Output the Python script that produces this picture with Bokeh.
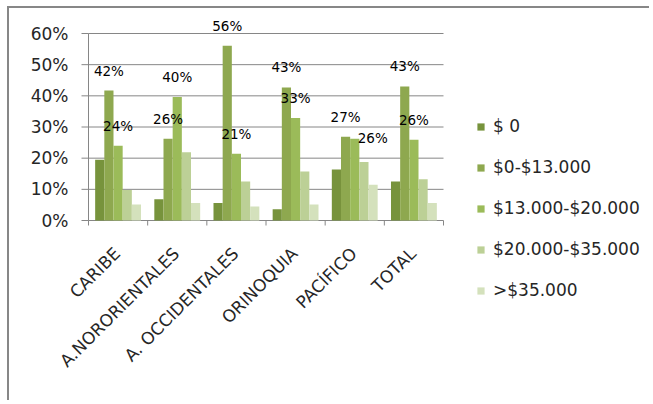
from bokeh.plotting import figure
from bokeh.models import ColumnDataSource, Range1d, Legend, LegendItem, LabelSet
from bokeh.core.properties import value
from bokeh.embed import file_html
from bokeh.resources import INLINE
import math

categories = ["CARIBE", "A.NORORIENTALES", "A. OCCIDENTALES", "ORINOQUIA", "PACÍFICO", "TOTAL"]
series_names = ["$ 0", "$0-$13.000", "$13.000-$20.000", "$20.000-$35.000", ">$35.000"]
s_0 = [0.195, 0.068, 0.056, 0.036, 0.164, 0.125]
s_0_13 = [0.417, 0.262, 0.561, 0.427, 0.269, 0.430]
s_13_20 = [0.240, 0.396, 0.214, 0.329, 0.262, 0.259]
s_20_35 = [0.098, 0.219, 0.125, 0.157, 0.188, 0.132]
s_35 = [0.051, 0.056, 0.045, 0.051, 0.115, 0.056]
y_ticks = [0, 0.1, 0.2, 0.3, 0.4, 0.5, 0.6]

series = [s_0, s_0_13, s_13_20, s_20_35, s_35]
colors = ["#77933C", "#8EA84F", "#9BBB59", "#BCD096", "#D4E1BC"]
labeled = [1, 2]
label_dx = {2: [0, 0, 0, 0, 18, 0]}
label_dy = {2: [20, 20, 20, 20, 1, 20]}

FONT = "DejaVu Sans"
GRAY = "#868686"
TXT = "#262626"

n = len(categories)
# geometry (pixels inside the canvas): plot area origin and scales
W, H = 642, 394
ORIG_X, ORIG_Y = 79, 212          # position of (0, 0%) inside the canvas
band_px = 355 / n                  # width of one category band
unit_px = 187 / y_ticks[-1]        # pixels per unit share

p = figure(width=W, height=H,
           x_range=Range1d(-ORIG_X / band_px, (W - ORIG_X) / band_px),
           y_range=Range1d(-(H - ORIG_Y) / unit_px, ORIG_Y / unit_px),
           output_backend="svg", toolbar_location=None, min_border=0)
p.styles = {"margin-left": "7px", "margin-top": "6px",
            "border-left": "2px solid #878787", "border-top": "2px solid #878787"}
p.outline_line_color = None
p.background_fill_color = "white"
p.border_fill_color = "white"
p.axis.visible = False
p.grid.visible = False

# horizontal gridlines (0% line doubles as the category axis line)
p.segment(x0=[0] * len(y_ticks), x1=[n] * len(y_ticks), y0=y_ticks, y1=y_ticks,
          line_color=GRAY, line_width=1)
# category boundary tick marks
p.ray(x=list(range(n + 1)), y=[0] * (n + 1), length=5, length_units="screen",
      angle=-math.pi / 2, line_color=GRAY, line_width=1)
# value axis: line, ticks, labels
p.segment(x0=[0], x1=[0], y0=[y_ticks[0]], y1=[y_ticks[-1]], line_color=GRAY, line_width=1)
p.ray(x=[0] * len(y_ticks), y=y_ticks, length=7, length_units="screen",
      angle=math.pi, line_color=GRAY, line_width=1)
ytick_src = ColumnDataSource(dict(x=[0] * len(y_ticks), y=y_ticks,
                                  t=[f"{round(t * 100)}%" for t in y_ticks]))
p.add_layout(LabelSet(x="x", y="y", text="t", source=ytick_src, x_offset=-20,
                      text_align="right", text_baseline="middle",
                      text_font=value(FONT), text_font_size=value("17px"), text_color=TXT))

bw = 0.155
centers = [i + 0.5 for i in range(n)]
items = []
for k, (vals, col, name) in enumerate(zip(series, colors, series_names)):
    off = (k - 2) * bw
    xs = [c + off for c in centers]
    src = ColumnDataSource(dict(x=xs, top=vals,
                                txt=[f"{round(v * 100)}%" for v in vals],
                                dx=label_dx.get(k, [0] * len(vals)),
                                dy=label_dy.get(k, [20] * len(vals))))
    r = p.vbar(x="x", top="top", width=bw, bottom=0, source=src, fill_color=col, line_color=None)
    items.append(LegendItem(label=name, renderers=[r]))
    if k in labeled:
        ls = LabelSet(x="x", y="top", text="txt", source=src, x_offset="dx", y_offset="dy",
                      text_align="center", text_baseline="middle",
                      text_font=value(FONT), text_font_size=value("13.5px"), text_color="#000000")
        p.add_layout(ls)

# category labels, rotated
cat_src = ColumnDataSource(dict(x=centers, y=[0] * n, name=categories))
p.add_layout(LabelSet(x="x", y="y", text="name", source=cat_src, angle=math.pi / 4,
                      x_offset=-1, y_offset=-30, text_align="right", text_baseline="middle",
                      text_font=value(FONT), text_font_size=value("17px"), text_color=TXT))

legend = Legend(items=items, location=(467, 102), orientation="vertical",
                glyph_width=9, glyph_height=9, label_standoff=8,
                label_text_font=FONT, label_text_font_size="17px", label_text_color=TXT,
                label_height=20, spacing=21, padding=0, margin=0,
                border_line_color=None, background_fill_alpha=0)
p.add_layout(legend)

open("out.html", "w").write(file_html(p, INLINE))
